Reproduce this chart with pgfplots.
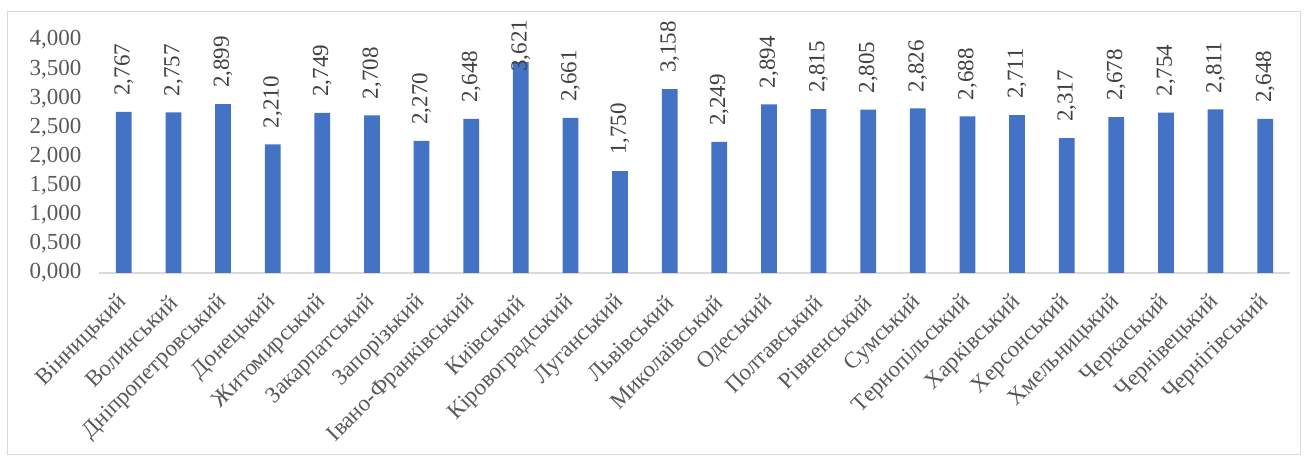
\documentclass[border=0pt]{standalone}
\usepackage{fontspec}
\setmainfont{Liberation Serif}
\usepackage{pgfplots}
\usepackage{pgfplotstable}
\pgfplotsset{compat=1.18}

\definecolor{barblue}{HTML}{4472C4}
\definecolor{ticktext}{HTML}{595959}
\definecolor{valtext}{HTML}{404040}
\definecolor{linegray}{HTML}{D9D9D9}

% index and value for each oblast
\pgfplotstableread{
idx v
0  2.767
1  2.757
2  2.899
3  2.210
4  2.749
5  2.708
6  2.270
7  2.648
8  3.621
9  2.661
10 1.750
11 3.158
12 2.249
13 2.894
14 2.815
15 2.805
16 2.826
17 2.688
18 2.711
19 2.317
20 2.678
21 2.754
22 2.811
23 2.648
}\data

\begin{document}
\begin{tikzpicture}[x=1pt,y=1pt]
\path[use as bounding box] (0,0) rectangle (1307,463);
\draw[linegray, line width=1pt] (7,8) rectangle (1300,451);
\begin{axis}[
  at={(99pt,190pt)}, anchor=south west,
  width=1191pt, height=233pt, scale only axis,
  xmin=-0.5, xmax=23.5, ymin=0, ymax=4,
  axis x line*=bottom, axis y line*=left,
  x axis line style={draw=linegray, line width=1.2pt, -},
  y axis line style={draw=none},
  major tick length=0pt,
  xtick={0,...,23},
  xticklabels={Вінницький, Волинський, Дніпропетровський, Донецький, Житомирський, Закарпатський, Запорізький, Івано-Франківський, Київський, Кіровоградський, Луганський, Львівський, Миколаївський, Одеський, Полтавський, Рівненський, Сумський, Тернопільський, Харківський, Херсонський, Хмельницький, Черкаський, Чернівецький, Чернігівський},
  ytick={0,0.5,...,4},
  /pgf/number format/.cd, fixed, fixed zerofill, precision=3, use comma, assume math mode=true,
  /pgfplots/.cd,
  yticklabel style={font=\fontsize{23}{27}\selectfont, text=ticktext, anchor=east, xshift=-14pt},
  xticklabel style={font=\fontsize{23}{27}\selectfont, text=ticktext, yshift=-26pt, rotate=45, anchor=east, inner sep=0pt},
  ybar, bar width=15.7pt,
  clip=false,
]
\addplot[fill=barblue, draw=none, bar shift=0pt] table[x=idx, y=v] {\data};
% value labels, kept inside the chart area for the tallest bar
\addplot[draw=none, bar shift=0pt, forget plot,
  nodes near coords,
  point meta=explicit,
  every node near coord/.append style={rotate=90, anchor=west, inner sep=0pt, xshift=16pt,
    font=\fontsize{23}{27}\selectfont, text=valtext},
] table[x=idx, y expr={min(\thisrow{v},3.18)}, meta=v] {\data};
\end{axis}
\end{tikzpicture}
\end{document}
